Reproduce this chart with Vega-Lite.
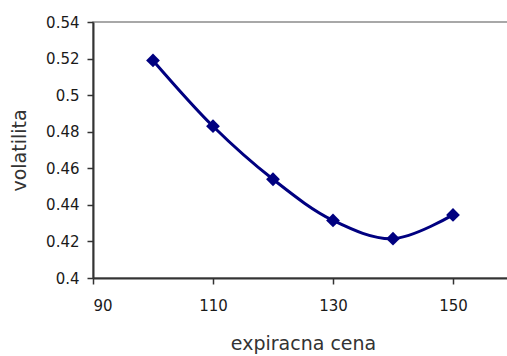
{
  "$schema": "https://vega.github.io/schema/vega-lite/v6.json",
  "width": 420,
  "height": 256,
  "autosize": {"type": "none"},
  "padding": {"left": 93, "top": 22, "right": 0, "bottom": 78},
  "background": "white",
  "config": {
    "view": {"stroke": "#8c8c8c", "strokeWidth": 1.5},
    "axis": {
      "labelFont": "DejaVu Sans",
      "titleFont": "DejaVu Sans",
      "labelFontSize": 15,
      "titleFontSize": 19,
      "labelColor": "#1a1a1a",
      "titleColor": "#333333",
      "titleFontWeight": "normal",
      "domainColor": "#333",
      "domainWidth": 2,
      "tickColor": "#333",
      "tickWidth": 1.5,
      "tickSize": 6,
      "grid": false
    }
  },
  "data": {
    "values": [
      {"cena": 100, "volatilita": 0.519},
      {"cena": 110, "volatilita": 0.483},
      {"cena": 120, "volatilita": 0.454},
      {"cena": 130, "volatilita": 0.4315},
      {"cena": 140, "volatilita": 0.4215},
      {"cena": 150, "volatilita": 0.4345}
    ]
  },
  "encoding": {
    "x": {
      "field": "cena",
      "type": "quantitative",
      "scale": {"domain": [90, 160], "nice": false, "zero": false},
      "axis": {
        "title": "expiracna cena",
        "values": [90, 110, 130, 150],
        "labelPadding": 14,
        "titlePadding": 21
      }
    },
    "y": {
      "field": "volatilita",
      "type": "quantitative",
      "scale": {"domain": [0.4, 0.54], "nice": false, "zero": false},
      "axis": {
        "title": "volatilita",
        "values": [0.4, 0.42, 0.44, 0.46, 0.48, 0.5, 0.52, 0.54],
        "format": "~g",
        "labelPadding": 8,
        "titlePadding": 16
      }
    }
  },
  "layer": [
    {
      "mark": {"type": "line", "interpolate": "catmull-rom", "color": "#000080", "strokeWidth": 3}
    },
    {
      "mark": {"type": "point", "shape": "diamond", "filled": true, "color": "#000080", "opacity": 1, "size": 190}
    }
  ]
}
